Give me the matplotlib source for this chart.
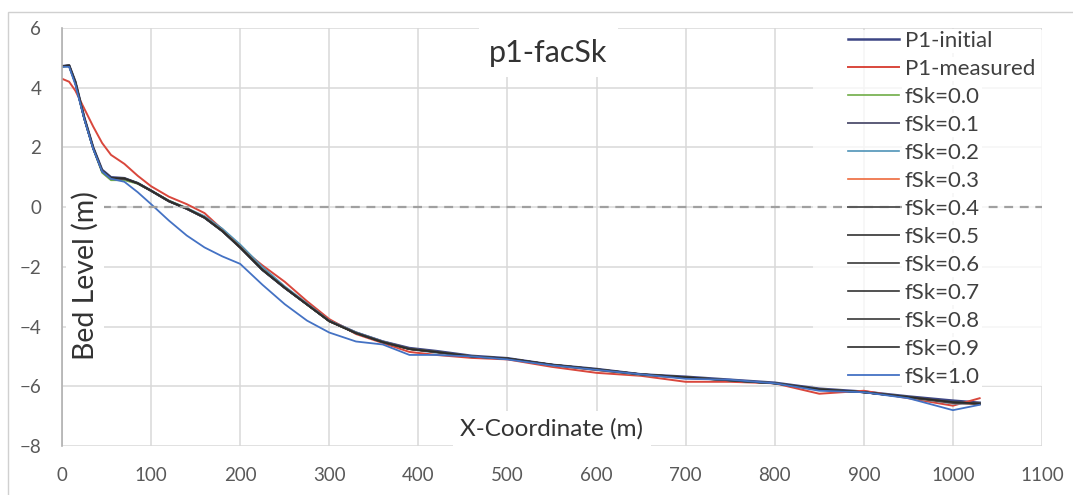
import matplotlib
matplotlib.use("Agg")
import matplotlib.pyplot as plt
from matplotlib.patches import Rectangle

plt.rcParams['font.family'] = ['Lato', 'DejaVu Sans']

x = [0, 8, 15, 25, 35, 45, 55, 70, 85, 100, 120, 140, 160, 180, 200, 225, 250, 275,
     300, 330, 360, 390, 420, 460, 500, 550, 600, 650, 700, 750, 800, 850, 900, 950, 1000, 1030]

p1_initial = [4.72, 4.75, 4.2, 3.0, 2.0, 1.25, 1.0, 0.97, 0.8, 0.55, 0.2, -0.05, -0.35, -0.8, -1.35, -2.1, -2.7, -3.25,
              -3.8, -4.2, -4.5, -4.72, -4.82, -4.98, -5.06, -5.28, -5.42, -5.6, -5.68, -5.78, -5.88, -6.08, -6.18, -6.34, -6.48, -6.55]
p1_measured = [4.3, 4.2, 3.9, 3.3, 2.7, 2.15, 1.75, 1.45, 1.05, 0.7, 0.35, 0.1, -0.2, -0.75, -1.35, -1.95, -2.5, -3.15,
               -3.75, -4.25, -4.55, -4.85, -4.95, -5.05, -5.1, -5.35, -5.55, -5.65, -5.85, -5.85, -5.9, -6.25, -6.15, -6.4, -6.65, -6.4]
fsk_00 = [4.7, 4.72, 4.15, 2.95, 1.95, 1.15, 0.9, 0.9, 0.78, 0.55, 0.22, -0.03, -0.33, -0.75, -1.3, -2.05, -2.7, -3.25,
          -3.82, -4.22, -4.52, -4.75, -4.85, -5.0, -5.08, -5.3, -5.45, -5.62, -5.72, -5.8, -5.9, -6.1, -6.2, -6.38, -6.55, -6.58]
fsk_01 = [4.72, 4.74, 4.18, 2.98, 1.98, 1.2, 0.95, 0.95, 0.8, 0.55, 0.2, -0.05, -0.35, -0.78, -1.33, -2.08, -2.7, -3.25,
          -3.8, -4.2, -4.5, -4.74, -4.84, -5.0, -5.08, -5.28, -5.44, -5.62, -5.7, -5.8, -5.9, -6.1, -6.2, -6.36, -6.55, -6.6]
fsk_02 = [4.72, 4.74, 4.18, 2.98, 1.98, 1.2, 0.97, 0.96, 0.82, 0.56, 0.22, -0.03, -0.3, -0.72, -1.25, -2.0, -2.65, -3.22,
          -3.8, -4.2, -4.5, -4.76, -4.88, -5.0, -5.08, -5.3, -5.46, -5.62, -5.72, -5.8, -5.9, -6.1, -6.2, -6.38, -6.58, -6.6]
fsk_03 = [4.72, 4.74, 4.18, 2.98, 1.98, 1.22, 0.97, 0.96, 0.8, 0.55, 0.2, -0.05, -0.34, -0.78, -1.32, -2.08, -2.7, -3.25,
          -3.82, -4.22, -4.52, -4.76, -4.86, -5.0, -5.08, -5.3, -5.46, -5.62, -5.72, -5.8, -5.9, -6.12, -6.2, -6.38, -6.56, -6.6]
fsk_04 = [4.72, 4.74, 4.18, 2.98, 1.98, 1.22, 0.98, 0.96, 0.8, 0.55, 0.2, -0.05, -0.35, -0.8, -1.34, -2.1, -2.7, -3.26,
          -3.82, -4.22, -4.52, -4.75, -4.85, -5.0, -5.08, -5.28, -5.44, -5.6, -5.7, -5.8, -5.9, -6.1, -6.2, -6.36, -6.55, -6.58]
fsk_05 = [4.72, 4.74, 4.18, 2.98, 1.98, 1.22, 0.98, 0.96, 0.8, 0.55, 0.2, -0.05, -0.35, -0.8, -1.35, -2.1, -2.7, -3.26,
          -3.82, -4.22, -4.52, -4.75, -4.85, -5.0, -5.08, -5.28, -5.44, -5.6, -5.7, -5.8, -5.9, -6.1, -6.2, -6.36, -6.54, -6.58]
fsk_06 = [4.72, 4.74, 4.18, 2.98, 1.98, 1.22, 0.98, 0.96, 0.8, 0.55, 0.2, -0.05, -0.35, -0.8, -1.35, -2.1, -2.7, -3.26,
          -3.82, -4.22, -4.52, -4.75, -4.85, -5.0, -5.07, -5.28, -5.44, -5.6, -5.7, -5.8, -5.9, -6.1, -6.2, -6.36, -6.54, -6.58]
fsk_07 = [4.72, 4.74, 4.18, 2.98, 1.98, 1.22, 0.98, 0.96, 0.8, 0.55, 0.2, -0.05, -0.35, -0.8, -1.35, -2.1, -2.7, -3.26,
          -3.82, -4.22, -4.52, -4.75, -4.85, -5.0, -5.07, -5.28, -5.43, -5.6, -5.7, -5.8, -5.9, -6.1, -6.2, -6.36, -6.54, -6.58]
fsk_08 = [4.72, 4.74, 4.18, 2.98, 1.98, 1.22, 0.98, 0.96, 0.8, 0.55, 0.2, -0.05, -0.35, -0.8, -1.35, -2.1, -2.7, -3.26,
          -3.82, -4.22, -4.52, -4.75, -4.85, -5.0, -5.07, -5.28, -5.43, -5.6, -5.7, -5.8, -5.9, -6.1, -6.2, -6.36, -6.53, -6.58]
fsk_09 = [4.72, 4.74, 4.18, 2.98, 1.98, 1.22, 0.98, 0.96, 0.8, 0.55, 0.2, -0.05, -0.35, -0.8, -1.35, -2.1, -2.7, -3.26,
          -3.82, -4.22, -4.52, -4.75, -4.85, -5.0, -5.07, -5.28, -5.43, -5.6, -5.7, -5.8, -5.9, -6.1, -6.2, -6.36, -6.53, -6.58]
fsk_10 = [4.7, 4.7, 4.1, 2.95, 1.95, 1.2, 0.95, 0.85, 0.5, 0.1, -0.45, -0.95, -1.35, -1.65, -1.9, -2.6, -3.25, -3.8,
          -4.2, -4.5, -4.6, -4.95, -4.95, -5.0, -5.1, -5.3, -5.45, -5.6, -5.75, -5.78, -5.9, -6.15, -6.2, -6.4, -6.8, -6.62]

labels = ['P1-initial', 'P1-measured', 'fSk=0.0', 'fSk=0.1', 'fSk=0.2', 'fSk=0.3', 'fSk=0.4',
          'fSk=0.5', 'fSk=0.6', 'fSk=0.7', 'fSk=0.8', 'fSk=0.9', 'fSk=1.0']
series = [p1_initial, p1_measured, fsk_00, fsk_01, fsk_02, fsk_03, fsk_04,
          fsk_05, fsk_06, fsk_07, fsk_08, fsk_09, fsk_10]
colors = ['#3c4584', '#d9473c', '#70ad47', '#5b5b78', '#4f93b8', '#ed6a3c', '#595959',
          '#505050', '#3a3a3a', '#333333', '#555555', '#2b2b2b', '#4472c4']
widths = [1.8, 1.4, 1.2, 1.4, 1.2, 1.2, 1.4, 1.4, 1.2, 1.2, 1.4, 1.2, 1.3]

xticks = [0, 100, 200, 300, 400, 500, 600, 700, 800, 900, 1000, 1100]
yticks = [6, 4, 2, 0, -2, -4, -6, -8]
zero_line_x = [45, 1100]
zero_line_y = [0, 0]

fig = plt.figure(figsize=(10.73, 4.95), dpi=100)
fig.patch.set_facecolor('white')
fig.add_artist(Rectangle((8 / 1073, -0.01), 1.02, 1 - 12 / 495 + 0.01, transform=fig.transFigure,
                         fill=False, edgecolor='#d0d0d0', linewidth=1.0))
ax = fig.add_axes([62 / 1073, 1 - 446 / 495, (1042 - 62) / 1073, (446 - 28) / 495])

ax.set_xlim(0, 1100)
ax.set_ylim(-8, 6)
ax.set_xticks(xticks)
ax.set_yticks(yticks)
ax.tick_params(length=0, labelsize=13.5, labelcolor='#595959', pad=15)
ax.grid(True, color='#d9d9d9', linewidth=1.1)
ax.set_axisbelow(True)
for s in ['top', 'right', 'bottom']:
    ax.spines[s].set_visible(False)
ax.spines['left'].set_color('#b0b0b0')
ax.spines['left'].set_linewidth(1.2)

# legend background area
ax.add_patch(Rectangle(((813 - 62) / 980, (446 - 386) / 418), (1042 - 813) / 980, (386 - 30) / 418,
                       transform=ax.transAxes, facecolor='white', edgecolor='none', alpha=0.75, zorder=1.5))

handles = []
for ys, lab, c, w in zip(series, labels, colors, widths):
    h, = ax.plot(x, ys, color=c, linewidth=w, label=lab, zorder=2)
    handles.append(h)

ax.plot(zero_line_x, zero_line_y, color='#a0a0a0', linewidth=1.6, linestyle=(0, (4, 3)), zorder=4)

leg = ax.legend(handles=handles, loc='upper left', bbox_to_anchor=((848 - 62) / 980, (446 - 31) / 418),
                frameon=False, fontsize=16, handlelength=2.3, handletextpad=0.25, labelspacing=0.36,
                borderpad=0, borderaxespad=0)
leg.set_zorder(5)
for t in leg.get_texts():
    t.set_color('#404040')
    t.set_bbox(dict(boxstyle='square,pad=0.1', facecolor='white', edgecolor='none'))

ax.text(546, 5.17, 'p1-facSk', fontsize=22, color='#333333', ha='center', va='center', zorder=7,
        bbox=dict(boxstyle='square,pad=0.35', facecolor='white', edgecolor='none'), clip_on=False)
ax.text(26, -2.3, 'Bed Level (m)', fontsize=20.5, color='#333333', ha='center', va='center', rotation=90,
        zorder=7, bbox=dict(boxstyle='square,pad=0.2', facecolor='white', edgecolor='none'))
ax.text(550, -7.42, 'X-Coordinate (m)', fontsize=17.5, color='#333333', ha='center', va='center', zorder=7,
        bbox=dict(boxstyle='square,pad=0.3', facecolor='white', edgecolor='none'))

fig.savefig('out.png', dpi=100)
